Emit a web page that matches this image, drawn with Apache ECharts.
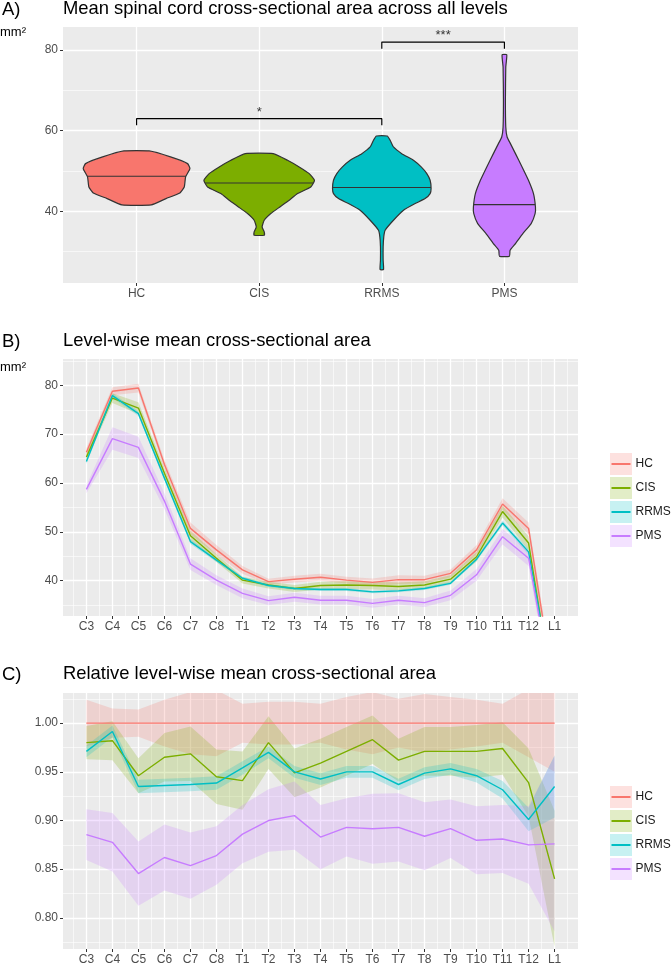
<!DOCTYPE html>
<html><head><meta charset="utf-8">
<script src="https://cdn.jsdelivr.net/npm/echarts@6/dist/echarts.min.js"></script>
<style>html,body{margin:0;padding:0;background:#fff}#c{width:672px;height:966px}</style>
</head><body><div id="c"></div>
<script>
// ---------- DATA ----------
const groups = ['HC', 'CIS', 'RRMS', 'PMS'];
const colors = ['#F8766D', '#7CAE00', '#00BFC4', '#C77CFF'];
const bandColors = ['rgba(248,118,109,0.22)', 'rgba(124,174,0,0.22)', 'rgba(0,191,196,0.22)', 'rgba(199,124,255,0.22)'];

// Panel A: violin outlines (mm², half-width in category units), bottom -> top
const vioHC_y = [41.57, 43.14, 44.54, 46.03, 48.51, 50.57, 51.81, 53.47, 54.95];
const vioHC_w = [0.12, 0.24, 0.353, 0.389, 0.40, 0.435, 0.416, 0.277, 0.103];
const vioCIS_y = [34.05, 34.88, 36.12, 37.77, 39.42, 41.07, 42.73, 44.38, 46.03, 47.68, 49.34, 50.99, 52.64, 54.29];
const vioCIS_w = [0.041, 0.041, 0.024, 0.041, 0.095, 0.169, 0.245, 0.313, 0.421, 0.451, 0.408, 0.326, 0.231, 0.114];
const vioRRMS_y = [25.55, 27.86, 31.16, 33.64, 35.29, 37.77, 40.25, 41.90, 43.14, 44.38, 45.62, 47.68, 49.34, 50.99, 52.64, 54.29, 55.94, 57.60, 58.67];
const vioRRMS_w = [0.014, 0.011, 0.011, 0.016, 0.027, 0.095, 0.177, 0.272, 0.353, 0.394, 0.402, 0.394, 0.367, 0.321, 0.258, 0.163, 0.095, 0.068, 0.044];
const vioPMS_y = [28.85, 30.33, 31.99, 34.47, 36.94, 39.42, 41.07, 44.38, 47.68, 50.99, 54.29, 56.77, 58.42, 60.90, 67.51, 75.77, 78.83];
const vioPMS_w = [0.041, 0.046, 0.09, 0.15, 0.218, 0.25, 0.253, 0.237, 0.196, 0.144, 0.09, 0.049, 0.022, 0.011, 0.008, 0.011, 0.019];
const medians = [48.67, 47.02, 45.87, 41.65];
const aTicks = [40, 60, 80];
const aMinor = [30, 50, 70];
// significance brackets: [from, to, top, tickEnd]
const brackets = [[0, 2, 62.97, 61.3], [2, 3, 81.97, 80.3]];
const sigText = ['*', '***'];
const sigX = [1, 2.5];
const sigY = [64.6, 83.5];

// Panels B & C
const levels = ['C3','C4','C5','C6','C7','C8','T1','T2','T3','T4','T5','T6','T7','T8','T9','T10','T11','T12','L1'];
const bHC   = [66.3, 78.8, 79.45, 63.8, 50.7, 46.3, 42.2, 39.8, 40.3, 40.7, 40.1, 39.65, 40.2, 40.2, 41.5, 46.3, 55.7, 50.7, 17.0];
const bCIS  = [65.3, 77.4, 75.35, 62.0, 49.2, 44.6, 40.1, 39.1, 38.4, 39.0, 39.1, 39.0, 38.8, 39.1, 40.3, 44.9, 54.15, 47.7, 14.5];
const bRRMS = [64.4, 77.9, 74.2, 61.0, 48.0, 44.2, 40.5, 39.0, 38.4, 38.2, 38.2, 37.7, 37.9, 38.4, 39.45, 44.4, 51.8, 45.9, 16.0];
const bPMS  = [58.7, 69.1, 67.3, 56.3, 43.4, 40.1, 37.4, 35.9, 36.6, 36.0, 36.0, 35.35, 36.0, 35.5, 37.0, 41.2, 49.0, 44.6, 15.0];
const bHCse   = [0.8, 0.8, 0.9, 0.9, 1.2, 1.0, 0.8, 0.6, 0.7, 0.7, 0.7, 0.8, 0.9, 0.8, 0.8, 1.0, 1.2, 1.2, 2.0];
const bCISse  = [0.8, 1.0, 1.2, 1.0, 1.0, 0.8, 0.7, 0.7, 0.7, 0.8, 0.8, 0.8, 0.8, 0.8, 0.8, 1.0, 1.2, 1.4, 2.0];
const bRRMSse = [0.5, 0.5, 0.5, 0.5, 0.5, 0.4, 0.3, 0.3, 0.3, 0.3, 0.3, 0.3, 0.3, 0.3, 0.3, 0.4, 0.5, 0.6, 1.0];
const bPMSse  = [0.8, 2.3, 2.2, 1.6, 1.2, 1.0, 1.0, 0.9, 0.9, 0.9, 0.9, 0.9, 0.9, 0.9, 1.0, 1.2, 1.6, 1.6, 2.0];
const bTicks = [40, 50, 60, 70, 80];
const bMinor = [35, 45, 55, 65, 75, 85];

const cHC   = [1, 1, 1, 1, 1, 1, 1, 1, 1, 1, 1, 1, 1, 1, 1, 1, 1, 1, 1];
const cCIS  = [0.980, 0.982, 0.946, 0.965, 0.9685, 0.945, 0.941, 0.980, 0.949, 0.959, 0.971, 0.983, 0.962, 0.971, 0.971, 0.971, 0.974, 0.939, 0.840];
const cRRMS = [0.971, 0.9915, 0.935, 0.936, 0.937, 0.9385, 0.954, 0.970, 0.950, 0.9426, 0.950, 0.950, 0.937, 0.9487, 0.953, 0.946, 0.9316, 0.901, 0.935];
const cPMS  = [0.8855, 0.8776, 0.8455, 0.862, 0.8537, 0.864, 0.886, 0.900, 0.905, 0.883, 0.893, 0.8916, 0.893, 0.8838, 0.8916, 0.8797, 0.881, 0.875, 0.876];
const cHCse   = [0.024, 0.015, 0.014, 0.024, 0.032, 0.034, 0.020, 0.022, 0.022, 0.020, 0.027, 0.032, 0.025, 0.030, 0.027, 0.024, 0.020, 0.035, 0.050];
const cCISse  = [0.017, 0.020, 0.018, 0.025, 0.028, 0.028, 0.030, 0.027, 0.025, 0.025, 0.025, 0.025, 0.022, 0.025, 0.025, 0.027, 0.027, 0.035, 0.070];
const cRRMSse = [0.006, 0.006, 0.007, 0.007, 0.007, 0.007, 0.007, 0.006, 0.006, 0.006, 0.006, 0.006, 0.006, 0.006, 0.006, 0.007, 0.009, 0.012, 0.032];
const cPMSse  = [0.026, 0.030, 0.033, 0.034, 0.034, 0.030, 0.030, 0.032, 0.035, 0.033, 0.030, 0.036, 0.035, 0.035, 0.030, 0.035, 0.035, 0.040, 0.090];
const cTicks = [0.80, 0.85, 0.90, 0.95, 1.00];
const cMinor = [0.775, 0.825, 0.875, 0.925, 0.975, 1.025];

// ---------- CHART ----------
const FONT = 'Liberation Sans, Arial, sans-serif';
const vioY = [vioHC_y, vioCIS_y, vioRRMS_y, vioPMS_y];
const vioW = [vioHC_w, vioCIS_w, vioRRMS_w, vioPMS_w];
const bMeans = [bHC, bCIS, bRRMS, bPMS], bSes = [bHCse, bCISse, bRRMSse, bPMSse];
const cMeans = [cHC, cCIS, cRRMS, cPMS], cSes = [cHCse, cCISse, cRRMSse, cPMSse];
const levelIdx = levels.map((l, i) => i);
const levelMinor = levels.map((l, i) => i - 0.5).concat([levels.length - 0.5]);

function interp(ys, ws, v) {
  for (let k = 0; k < ys.length - 1; k++) {
    if (v >= ys[k] && v <= ys[k + 1]) return ws[k] + (ws[k + 1] - ws[k]) * (v - ys[k]) / (ys[k + 1] - ys[k]);
  }
  return 0;
}

const grids = [
  { left: 63, width: 515, top: 27, height: 256 },
  { left: 63, width: 515, top: 359, height: 257 },
  { left: 63, width: 515, top: 693, height: 256 }
].map(g => Object.assign(g, { show: true, backgroundColor: '#EBEBEB', borderWidth: 0, containLabel: false }));

function majorAxis(extra) {
  return Object.assign({
    type: 'value', axisLine: { show: false, onZero: false },
    axisTick: { show: true, length: 3, lineStyle: { color: '#333', width: 1 } },
    axisLabel: { color: '#4D4D4D', fontSize: 12, fontFamily: FONT, margin: 5 },
    splitLine: { show: true, lineStyle: { color: '#FFFFFF', width: 1.3 } },
    z: 1
  }, extra);
}
function minorAxis(extra) {
  return Object.assign({
    type: 'value', axisLine: { show: false, onZero: false }, axisTick: { show: false }, axisLabel: { show: false },
    splitLine: { show: true, lineStyle: { color: '#FFFFFF', width: 0.6 } }, z: 0
  }, extra);
}
function tickCfg(vals, fmt) {
  return {
    axisTick: { show: true, length: 3, lineStyle: { color: '#333', width: 1 }, customValues: vals },
    axisLabel: { color: '#4D4D4D', fontSize: 12, fontFamily: FONT, margin: 5, customValues: vals, formatter: fmt,
      showMinLabel: true, showMaxLabel: true }
  };
}

const xAxes = [
  majorAxis(Object.assign({ gridIndex: 0, min: -0.6, max: 3.6 }, tickCfg([0, 1, 2, 3], v => groups[Math.round(v)]))),
  majorAxis(Object.assign({ gridIndex: 1, min: -0.9, max: 18.9 }, tickCfg(levelIdx, v => levels[Math.round(v)]))),
  minorAxis({ gridIndex: 1, min: -0.9, max: 18.9, axisTick: { show: false, customValues: levelMinor } }),
  majorAxis(Object.assign({ gridIndex: 2, min: -0.9, max: 18.9 }, tickCfg(levelIdx, v => levels[Math.round(v)]))),
  minorAxis({ gridIndex: 2, min: -0.9, max: 18.9, axisTick: { show: false, customValues: levelMinor } })
];
const yAxes = [
  majorAxis(Object.assign({ gridIndex: 0, min: 22.2, max: 85.7 }, tickCfg(aTicks, v => String(v)))),
  minorAxis({ gridIndex: 0, min: 22.2, max: 85.7, position: 'left', axisTick: { show: false, customValues: aMinor } }),
  majorAxis(Object.assign({ gridIndex: 1, min: 32.76, max: 85.4 }, tickCfg(bTicks, v => String(v)))),
  minorAxis({ gridIndex: 1, min: 32.76, max: 85.4, position: 'left', axisTick: { show: false, customValues: bMinor } }),
  majorAxis(Object.assign({ gridIndex: 2, min: 0.768, max: 1.031 }, tickCfg(cTicks, v => v.toFixed(2)))),
  minorAxis({ gridIndex: 2, min: 0.768, max: 1.031, position: 'left', axisTick: { show: false, customValues: cMinor } })
];

const series = [];
// Violins
series.push({
  type: 'custom', name: 'violins', xAxisIndex: 0, yAxisIndex: 0, silent: true, z: 3,
  data: groups.map((g, i) => [i, medians[i]]),
  renderItem: function (params, api) {
    const i = params.dataIndex;
    const ys = vioY[i], ws = vioW[i];
    const pts = [];
    for (let k = 0; k < ys.length; k++) pts.push(api.coord([i + ws[k], ys[k]]));
    for (let k = ys.length - 1; k >= 0; k--) pts.push(api.coord([i - ws[k], ys[k]]));
    const wm = interp(ys, ws, medians[i]);
    const a = api.coord([i - wm, medians[i]]), b = api.coord([i + wm, medians[i]]);
    return { type: 'group', children: [
      { type: 'polygon', shape: { points: pts, smooth: 0.15 }, style: { fill: colors[i], stroke: '#333333', lineWidth: 1.2 } },
      { type: 'line', shape: { x1: a[0], y1: a[1], x2: b[0], y2: b[1] }, style: { stroke: '#333333', lineWidth: 1.1 } }
    ] };
  }
});
// Brackets
brackets.forEach((br, k) => {
  series.push({
    type: 'line', name: 'bracket' + k, xAxisIndex: 0, yAxisIndex: 0, silent: true, symbol: 'none', z: 4,
    lineStyle: { color: '#000', width: 1.2 }, itemStyle: { color: '#000' },
    data: [[br[0], br[3]], [br[0], br[2]], [br[1], br[2]], [br[1], br[3]]]
  });
});
series.push({
  type: 'scatter', name: 'sig', xAxisIndex: 0, yAxisIndex: 0, silent: true, symbolSize: 0, z: 4,
  data: sigText.map((t, k) => [sigX[k], sigY[k], t]),
  label: { show: true, position: 'inside', formatter: p => p.data[2], color: '#000', fontSize: 13, fontFamily: FONT }
});

function ribbon(name, mean, se, color, xi, yi) {
  return {
    type: 'custom', name: name, xAxisIndex: xi, yAxisIndex: yi, clip: true, silent: true, z: 2,
    itemStyle: { color: color },
    data: [[0, mean[0]]],
    renderItem: function (params, api) {
      const pts = [];
      for (let k = 0; k < mean.length; k++) pts.push(api.coord([k, mean[k] + se[k]]));
      for (let k = mean.length - 1; k >= 0; k--) pts.push(api.coord([k, mean[k] - se[k]]));
      const cs = params.coordSys;
      return { type: 'polygon', shape: { points: pts }, style: { fill: color },
        clipPath: { type: 'rect', shape: { x: cs.x, y: cs.y, width: cs.width, height: cs.height } } };
    }
  };
}
function lineS(name, mean, color, xi, yi) {
  return {
    type: 'line', name: name, xAxisIndex: xi, yAxisIndex: yi, silent: true, symbol: 'none', clip: true, z: 3,
    lineStyle: { color: color, width: 1.4 }, itemStyle: { color: color },
    data: mean.map((v, i) => [i, v])
  };
}
groups.forEach((g, i) => series.push(ribbon(g + ' band', bMeans[i], bSes[i], bandColors[i], 1, 2)));
groups.forEach((g, i) => series.push(lineS(g, bMeans[i], colors[i], 1, 2)));
groups.forEach((g, i) => series.push(ribbon(g + ' band', cMeans[i], cSes[i], bandColors[i], 3, 4)));
groups.forEach((g, i) => series.push(lineS(g, cMeans[i], colors[i], 3, 4)));

function legendPair(top) {
  return [
    { orient: 'vertical', left: 605, top: top, icon: 'rect', itemWidth: 22, itemHeight: 22, itemGap: 2,
      selectedMode: false, data: groups.map(g => g + ' band'), formatter: () => '', textStyle: { fontSize: 1 } },
    { orient: 'vertical', left: 606.5, top: top, icon: 'rect', itemWidth: 19, itemHeight: 2, itemGap: 2,
      selectedMode: false, data: groups,
      textStyle: { fontSize: 12, lineHeight: 22, color: '#1A1A1A', fontFamily: FONT } }
  ];
}

const T = (text, left, top, size) => ({ text: text, left: left, top: top, padding: 0,
  textStyle: { fontSize: size, fontWeight: 'normal', color: '#000', fontFamily: FONT } });

const option = {
  animation: false,
  backgroundColor: '#fff',
  title: [
    T('A)', 2, 0, 18.5), T('Mean spinal cord cross-sectional area across all levels', 63, 0, 18.4), T('mm²', 0, 26, 13),
    T('B)', 2, 332, 18.5), T('Level-wise mean cross-sectional area', 63, 332, 18.4), T('mm²', 0, 361, 13),
    T('C)', 2, 665, 18.5), T('Relative level-wise mean cross-sectional area', 63, 665, 18.4)
  ],
  grid: grids,
  xAxis: xAxes,
  yAxis: yAxes,
  legend: legendPair(448).concat(legendPair(781)),
  series: series
};
const chart = echarts.init(document.getElementById('c'), null, { renderer: 'canvas' });
chart.setOption(option);
</script></body></html>
